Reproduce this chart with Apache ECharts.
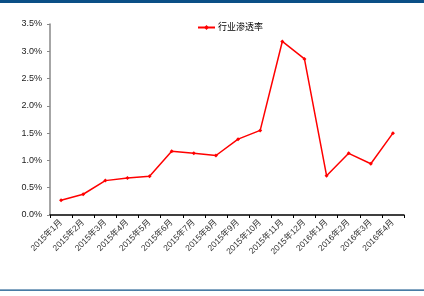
<!DOCTYPE html>
<html><head><meta charset="utf-8">
<script src="https://cdn.jsdelivr.net/npm/echarts@6/dist/echarts.min.js"></script>
<style>html,body{margin:0;padding:0;background:#fff}#c{width:424px;height:296px}</style>
</head><body><div id="c"></div>
<script>
var categories = ['2015年1月','2015年2月','2015年3月','2015年4月','2015年5月','2015年6月','2015年7月','2015年8月','2015年9月','2015年10月','2015年11月','2015年12月','2016年1月','2016年2月','2016年3月','2016年4月'];
var seriesName = '行业渗透率';
var values = [0.27, 0.38, 0.63, 0.68, 0.71, 1.17, 1.13, 1.09, 1.39, 1.55, 3.18, 2.86, 0.72, 1.13, 0.94, 1.50];
var yTicks = [0, 0.5, 1.0, 1.5, 2.0, 2.5, 3.0, 3.5];

var chart = echarts.init(document.getElementById('c'), null, {renderer:'canvas'});
var font = "Liberation Sans, 'Noto Sans CJK SC', sans-serif";
chart.setOption({
  animation: false,
  textStyle: {fontFamily: font},
  graphic: [
    {type:'rect', shape:{x:0,y:0,width:424,height:3}, style:{fill:'#0b4f86'}},
    {type:'rect', shape:{x:0,y:289.5,width:424,height:1.2}, style:{fill:'#0b4f86'}}
  ],
  legend: {
    top: 18, left: 192,
    itemWidth: 17, itemHeight: 6, itemGap: 3,
    textStyle: {fontSize: 9, color: '#000', fontFamily: font, padding: [0,0,0,-2]},
    data: [seriesName]
  },
  grid: {left: 50, right: 20, top: 24, bottom: 81, containLabel: false},
  xAxis: {
    type: 'category',
    data: categories,
    boundaryGap: true,
    axisLine: {lineStyle: {color: '#000', width: 1.5}},
    axisTick: {show: true, alignWithLabel: false, length: 3, inside: false, lineStyle: {color:'#000'}},
    axisLabel: {rotate: 45, fontSize: 8.5, color: '#333', margin: 6, interval: 0, fontFamily: font}
  },
  yAxis: {
    type: 'value',
    min: 0, max: 3.5, interval: 0.5,
    axisLine: {show: true, lineStyle: {color: '#888', width: 1.5}},
    axisTick: {show: true, length: 3, lineStyle: {color:'#888'}},
    splitLine: {show: false},
    axisLabel: {fontSize: 9, color: '#222', margin: 8, fontFamily: font,
      formatter: function(v){ return v.toFixed(1) + '%'; }}
  },
  series: [{
    name: seriesName,
    type: 'line',
    data: values,
    symbol: 'diamond',
    symbolSize: 4,
    lineStyle: {color: '#ff0000', width: 1.5},
    itemStyle: {color: '#ff0000'}
  }]
});
</script></body></html>
